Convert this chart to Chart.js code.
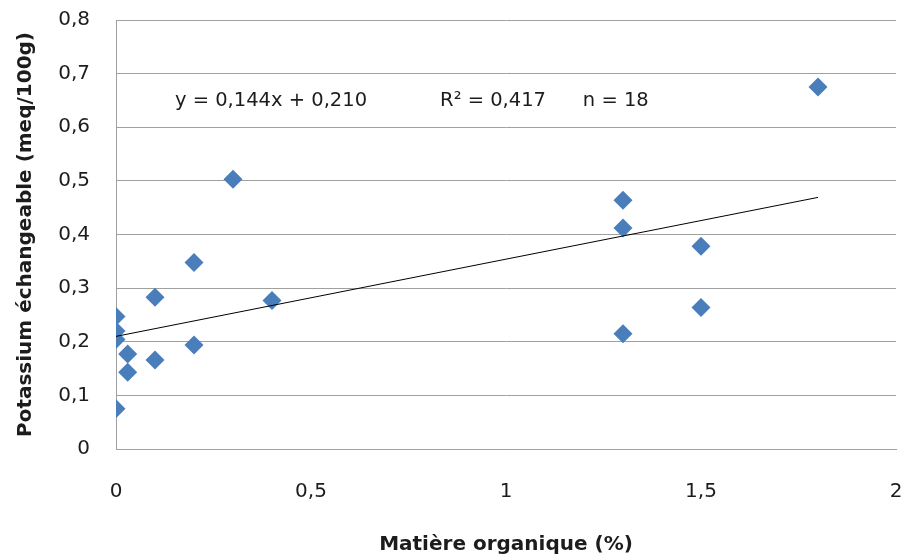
<!DOCTYPE html>
<html>
<head>
<meta charset="utf-8">
<script src="https://cdn.jsdelivr.net/npm/chart.js@4.4.1/dist/chart.umd.min.js"></script>
<style>
  html, body { margin: 0; padding: 0; background: #fff; }
  #wrap { width: 907px; height: 559px; position: relative; }
</style>
</head>
<body>
<div id="wrap"><canvas id="kChart"></canvas></div>
<script>
// organic matter (%) vs exchangeable potassium (meq/100g)
const matiere = [0, 0, 0, 0, 0.03, 0.03, 0.1, 0.1, 0.2, 0.2, 0.3, 0.4, 1.3, 1.3, 1.3, 1.5, 1.5, 1.8];
const potassium = [0.075, 0.247, 0.220, 0.204, 0.177, 0.143, 0.283, 0.166, 0.348, 0.194, 0.503, 0.277, 0.464, 0.412, 0.215, 0.378, 0.264, 0.675];

// linear fit shown on the chart
const slope = 0.144;
const intercept = 0.210;
const fitRange = [0, 1.8];
const statLabels = ['y = 0,144x + 0,210', 'R\u00b2 = 0,417', 'n = 18'];

const xTicks = [0, 0.5, 1, 1.5, 2];
const yTicks = [0, 0.1, 0.2, 0.3, 0.4, 0.5, 0.6, 0.7, 0.8];

const FONT = "'DejaVu Sans', sans-serif";
const TEXT = '#1c1c1c';
const fmt = (v) => String(Number(v.toFixed(2))).replace('.', ',');

const points = matiere.map((x, i) => ({ x: x, y: potassium[i] }));
const fitLine = fitRange.map((x) => ({ x: x, y: slope * x + intercept }));

// regression text, placed in data units inside the plot
const statsText = {
  id: 'statsText',
  afterDatasetsDraw(chart) {
    const { ctx, scales } = chart;
    const xs = [0.151, 0.831, 1.197];
    const yPos = scales.y.getPixelForValue(0.6486);
    ctx.save();
    ctx.font = '19.5px ' + FONT;
    ctx.fillStyle = TEXT;
    ctx.textBaseline = 'middle';
    ctx.textAlign = 'left';
    statLabels.forEach((t, i) => {
      ctx.fillText(t, scales.x.getPixelForValue(xs[i]), yPos);
    });
    ctx.restore();
  }
};

new Chart(document.getElementById('kChart'), {
  type: 'scatter',
  data: {
    datasets: [
      {
        type: 'line',
        label: 'tendance',
        data: fitLine,
        borderColor: '#000',
        borderWidth: 1,
        pointRadius: 0,
        fill: false,
        order: 0
      },
      {
        label: 'K',
        data: points,
        pointStyle: 'rectRot',
        pointRadius: 9.5,
        pointHoverRadius: 9.5,
        backgroundColor: '#4a7ebb',
        borderColor: '#4a7ebb',
        borderWidth: 0,
        order: 1
      }
    ]
  },
  plugins: [statsText],
  options: {
    responsive: true,
    maintainAspectRatio: false,
    animation: false,
    layout: { padding: { top: 20, right: 11, left: 0, bottom: 0 } },
    plugins: {
      legend: { display: false },
      tooltip: { enabled: false }
    },
    scales: {
      x: {
        type: 'linear',
        min: 0,
        max: 2,
        afterBuildTicks: (s) => { s.ticks = xTicks.map((v) => ({ value: v })); },
        afterFit: (s) => {
          s.height = 110;
          s.paddingLeft = 0;
          s.paddingRight = 0;
        },
        grid: { display: false, drawTicks: false },
        border: { display: true, color: '#a0a0a0', width: 1 },
        ticks: {
          padding: 31,
          color: TEXT,
          font: { family: FONT, size: 20 },
          callback: (v) => fmt(v)
        },
        title: {
          display: true,
          text: 'Matière organique (%)',
          color: TEXT,
          font: { family: FONT, size: 20, weight: 'bold' },
          padding: { top: 0, bottom: 2 }
        }
      },
      y: {
        min: 0,
        max: 0.8,
        afterBuildTicks: (s) => { s.ticks = yTicks.map((v) => ({ value: v })); },
        afterFit: (s) => {
          s.width = 116;
          s.paddingTop = 0;
          s.paddingBottom = 0;
        },
        grid: { color: '#a0a0a0', lineWidth: 1, drawTicks: false },
        border: { display: true, color: '#a0a0a0', width: 1 },
        ticks: {
          padding: 26,
          color: TEXT,
          font: { family: FONT, size: 20 },
          callback: (v) => fmt(v)
        },
        title: {
          display: true,
          text: 'Potassium échangeable (meq/100g)',
          color: TEXT,
          font: { family: FONT, size: 20, weight: 'bold' },
          padding: { top: 14, bottom: 0 }
        }
      }
    }
  }
});
</script>
</body>
</html>
